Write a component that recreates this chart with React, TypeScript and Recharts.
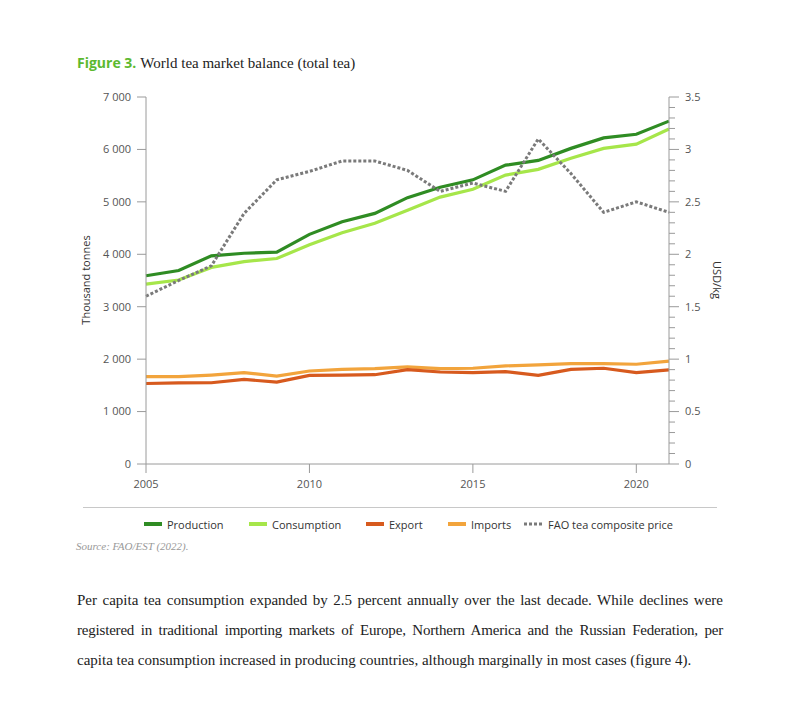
import { LineChart, Line, XAxis, YAxis } from "recharts";

// values (thousand tonnes, USD/kg)
const years = [2005, 2006, 2007, 2008, 2009, 2010, 2011, 2012, 2013, 2014, 2015, 2016, 2017, 2018, 2019, 2020, 2021];
const production = [3590, 3690, 3970, 4020, 4040, 4380, 4620, 4780, 5080, 5280, 5420, 5700, 5790, 6020, 6220, 6290, 6540];
const consumption = [3430, 3510, 3750, 3860, 3920, 4180, 4410, 4590, 4840, 5090, 5240, 5510, 5620, 5830, 6020, 6100, 6390];
const exportVals = [1535, 1548, 1550, 1613, 1561, 1690, 1697, 1703, 1800, 1755, 1742, 1761, 1690, 1806, 1826, 1742, 1794];
const importVals = [1665, 1665, 1697, 1742, 1677, 1774, 1806, 1819, 1852, 1819, 1826, 1871, 1890, 1916, 1916, 1903, 1961];
const price = [1.6, 1.75, 1.89, 2.39, 2.71, 2.79, 2.89, 2.89, 2.8, 2.6, 2.68, 2.6, 3.1, 2.77, 2.4, 2.5, 2.4];

const xTicks = [2005, 2010, 2015, 2020];
const leftTicks = [0, 1000, 2000, 3000, 4000, 5000, 6000, 7000];
const rightTicks = [
  0, 0.1, 0.2, 0.3, 0.4, 0.5, 0.6, 0.7, 0.8, 0.9, 1, 1.1, 1.2, 1.3, 1.4, 1.5, 1.6, 1.7,
  1.8, 1.9, 2, 2.1, 2.2, 2.3, 2.4, 2.5, 2.6, 2.7, 2.8, 2.9, 3, 3.1, 3.2, 3.3, 3.4, 3.5,
];

const data = years.map((year, i) => ({
  year,
  production: production[i],
  consumption: consumption[i],
  export: exportVals[i],
  imports: importVals[i],
  price: price[i],
}));

const SANS = "'Open Sans', sans-serif";
const SERIF = "'Liberation Serif', serif";
const AXIS = "#9a9a9a";

const legendItems = [
  { label: "Production", color: "#2f8c23", x: 144, dotted: false },
  { label: "Consumption", color: "#a6e64a", x: 249, dotted: false },
  { label: "Export", color: "#d75a1e", x: 366, dotted: false },
  { label: "Imports", color: "#f2a43c", x: 448, dotted: false },
  { label: "FAO tea composite price", color: "#7a7a7a", x: 524, dotted: true },
];

const fmt = (v: number) => String(v).replace(/\B(?=(\d{3})+(?!\d))/g, " ");

const RightTick = ({ x, y, payload }: any) => {
  const v = payload.value;
  const major = Math.abs(v * 2 - Math.round(v * 2)) < 1e-6;
  if (!major) return null;
  return (
    <g>
      <line x1={x} x2={x + 4} y1={y} y2={y} stroke={AXIS} />
      <text x={x + 10} y={y} dy="0.35em" textAnchor="start" fontSize={11} fill="#555" fontFamily={SANS}>
        {String(v)}
      </text>
    </g>
  );
};

export default function App() {
  return (
    <div style={{ position: "absolute", left: 0, top: 0, width: 800, height: 722, background: "#fff" }}>
      <div style={{ position: "absolute", left: 77, top: 53, whiteSpace: "nowrap", lineHeight: "20px" }}>
        <span style={{ fontFamily: SANS, fontWeight: 700, fontSize: 14, color: "#5cb92f" }}>Figure 3.</span>
        <span style={{ fontFamily: SERIF, fontSize: 15, color: "#222", marginLeft: 4 }}>
          World tea market balance (total tea)
        </span>
      </div>

      <div style={{ position: "absolute", left: 0, top: 0 }}>
        <LineChart width={800} height={500} data={data} margin={{ top: 97, right: 71, bottom: 6, left: 80 }}>
          <XAxis
            dataKey="year"
            type="number"
            domain={[2005, 2021]}
            ticks={xTicks}
            height={30}
            stroke={AXIS}
            tickSize={9}
            tickMargin={7}
            tick={{ fontSize: 11, fill: "#555", fontFamily: SANS }}
          />
          <YAxis
            yAxisId="left"
            domain={[0, 7000]}
            ticks={leftTicks}
            width={66}
            stroke={AXIS}
            tickSize={9}
            tickMargin={6}
            tickFormatter={fmt}
            tick={{ fontSize: 11, fill: "#555", fontFamily: SANS }}
          />
          <YAxis
            yAxisId="right"
            orientation="right"
            domain={[0, 3.5]}
            ticks={rightTicks}
            interval={0}
            width={60}
            stroke={AXIS}
            tickSize={6}
            tickMargin={0}
            tick={<RightTick />}
          />
          <Line yAxisId="left" dataKey="production" stroke="#2f8c23" strokeWidth={3.2} dot={false} isAnimationActive={false} />
          <Line yAxisId="left" dataKey="consumption" stroke="#a6e64a" strokeWidth={3.2} dot={false} isAnimationActive={false} />
          <Line yAxisId="left" dataKey="imports" stroke="#f2a43c" strokeWidth={3.2} dot={false} isAnimationActive={false} />
          <Line yAxisId="left" dataKey="export" stroke="#d75a1e" strokeWidth={3.2} dot={false} isAnimationActive={false} />
          <Line
            yAxisId="right"
            dataKey="price"
            stroke="#7a7a7a"
            strokeWidth={3}
            strokeDasharray="3 2"
            dot={false}
            isAnimationActive={false}
          />
        </LineChart>
      </div>

      <div
        style={{
          position: "absolute", left: 85, top: 280, transform: "translate(-50%, -50%) rotate(-90deg)",
          fontFamily: SANS, fontSize: 11, color: "#333", whiteSpace: "nowrap",
        }}
      >
        Thousand tonnes
      </div>
      <div
        style={{
          position: "absolute", left: 717, top: 280, transform: "translate(-50%, -50%) rotate(90deg)",
          fontFamily: SANS, fontSize: 11, color: "#333", whiteSpace: "nowrap",
        }}
      >
        USD/kg
      </div>

      <div style={{ position: "absolute", left: 83, top: 507, width: 634, height: 1, background: "#c8c8c8" }} />

      {legendItems.map((it) => (
        <div
          key={it.label}
          style={{
            position: "absolute", left: it.x, top: 516, height: 16, display: "flex", alignItems: "center",
            fontFamily: SANS, fontSize: 11, color: "#333", whiteSpace: "nowrap",
          }}
        >
          {it.dotted ? (
            <svg width={20} height={4} style={{ marginRight: 4 }}>
              <line x1={0} x2={20} y1={2} y2={2} stroke={it.color} strokeWidth={3} strokeDasharray="3 2" />
            </svg>
          ) : (
            <div style={{ width: 18, height: 4, background: it.color, marginRight: 5 }} />
          )}
          {it.label}
        </div>
      ))}

      <div
        style={{
          position: "absolute", left: 76, top: 540, fontFamily: SERIF, fontStyle: "italic",
          fontSize: 11, color: "#999", whiteSpace: "nowrap",
        }}
      >
        Source: FAO/EST (2022).
      </div>

      <div style={{ position: "absolute", left: 77, top: 585, width: 646, fontFamily: SERIF, fontSize: 15, color: "#222", lineHeight: "30px" }}>
        <div style={{ textAlign: "justify", textAlignLast: "justify" }}>
          Per capita tea consumption expanded by 2.5 percent annually over the last decade. While declines were
        </div>
        <div style={{ textAlign: "justify", textAlignLast: "justify", letterSpacing: -0.2 }}>
          registered in traditional importing markets of Europe, Northern America and the Russian Federation, per
        </div>
        <div style={{ whiteSpace: "nowrap" }}>
          capita tea consumption increased in producing countries, although marginally in most cases (figure 4).
        </div>
      </div>
    </div>
  );
}
